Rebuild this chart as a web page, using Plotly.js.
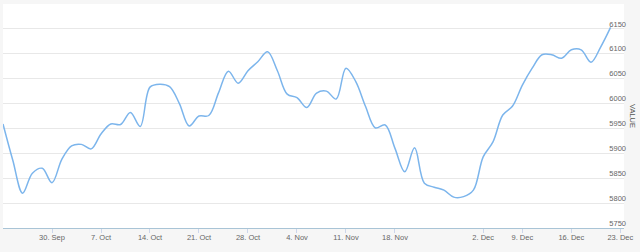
<!DOCTYPE html>
<html>
<head>
<meta charset="utf-8">
<script src="https://cdn.plot.ly/plotly-3.0.1.min.js"></script>
<style>html,body{margin:0;padding:0;background:#f6f6f6;}#chart{width:640px;height:252px;}</style>
</head>
<body>
<div id="chart"></div>
<script>
const dates = [
  "2019-09-23","2019-09-24","2019-09-25","2019-09-26","2019-09-27",
  "2019-09-30","2019-10-01","2019-10-02","2019-10-03","2019-10-04",
  "2019-10-07","2019-10-08","2019-10-09","2019-10-10","2019-10-11",
  "2019-10-14","2019-10-15","2019-10-16","2019-10-17","2019-10-18",
  "2019-10-21","2019-10-22","2019-10-23","2019-10-24","2019-10-25",
  "2019-10-28","2019-10-29","2019-10-30","2019-10-31","2019-11-01",
  "2019-11-04","2019-11-05","2019-11-06","2019-11-07","2019-11-08",
  "2019-11-11","2019-11-12","2019-11-13","2019-11-14","2019-11-15",
  "2019-11-18","2019-11-19","2019-11-20","2019-11-21","2019-11-22",
  "2019-11-25","2019-11-26","2019-11-27","2019-11-29",
  "2019-12-03","2019-12-04","2019-12-05","2019-12-06",
  "2019-12-09","2019-12-10","2019-12-11","2019-12-12","2019-12-13",
  "2019-12-16","2019-12-17","2019-12-18","2019-12-19","2019-12-20"
];
const values = [
  5959,5886,5820,5860,5870,
  5841,5888,5915,5918,5909,
  5939,5959,5958,5982,5954,
  6033,6039,6034,6000,5955,
  5975,5976,6022,6065,6041,
  6066,6084,6104,6066,6019,
  6012,5992,6021,6025,6009,
  6071,6044,5994,5951,5957,
  5910,5863,5911,5840,5832,
  5826,5812,5813,5826,
  5893,5923,5977,5995,
  6037,6071,6098,6098,6091,
  6108,6108,6083,6114,6153
];
const missingDays = ["2019-11-28","2019-12-02"];
const xTickDates = ["2019-09-30","2019-10-07","2019-10-14","2019-10-21","2019-10-28","2019-11-04","2019-11-11","2019-11-18","2019-12-03","2019-12-09","2019-12-16","2019-12-23"];
const xTickLabels = ["30. Sep","7. Oct","14. Oct","21. Oct","28. Oct","4. Nov","11. Nov","18. Nov","2. Dec","9. Dec","16. Dec","23. Dec"];
const yTicks = [5750,5800,5850,5900,5950,6000,6050,6100,6150,6200];
const yTickLabels = ["5750","5800","5850","5900","5950","6000","6050","6100","6150",""];
const yTitle = "VALUE";

const font = {family: "Liberation Sans, Arial, sans-serif", size: 7.5, color: "#666666"};

Plotly.newPlot("chart", [{
  x: dates, y: values, type: "scatter", mode: "lines",
  line: {color: "#7cb5ec", width: 1.5, shape: "spline", smoothing: 1},
  hoverinfo: "skip", cliponaxis: false
}], {
  width: 640, height: 252,
  margin: {l: 3, r: 16, t: 4, b: 24, pad: 0},
  paper_bgcolor: "#f6f6f6",
  plot_bgcolor: "#ffffff",
  showlegend: false,
  font: font,
  xaxis: {
    type: "date",
    range: ["2019-09-23", "2019-12-23 08:53"],
    rangebreaks: [{bounds: ["sat", "mon"]}, {values: missingDays}],
    tickmode: "array", tickvals: xTickDates, ticktext: xTickLabels,
    ticklabeloverflow: "allow",
    ticklabelstandoff: -2,
    showgrid: false, zeroline: false,
    showline: true, linecolor: "#a9c4d6", linewidth: 1,
    ticks: "outside", ticklen: 4, tickcolor: "#ccd6eb", tickwidth: 1,
    tickfont: font, fixedrange: true
  },
  yaxis: {
    side: "right",
    range: [5750, 6200],
    tickmode: "array", tickvals: yTicks, ticktext: yTickLabels,
    ticklabelposition: "inside",
    ticklabeloverflow: "allow",
    ticklabelshift: -5,
    ticklabelstandoff: -5,
    showgrid: true, gridcolor: "#e8e8e8", gridwidth: 1,
    zeroline: false, showline: false, ticks: "",
    tickfont: font, fixedrange: true
  },
  annotations: [{
    text: yTitle, textangle: 90, xref: "paper", yref: "paper",
    x: 1.0145, y: 0.5, xanchor: "center", yanchor: "middle", showarrow: false,
    font: {family: "Liberation Sans, Arial, sans-serif", size: 7.5, color: "#555555"}
  }]
}, {staticPlot: true, displayModeBar: false});
</script>
</body>
</html>
